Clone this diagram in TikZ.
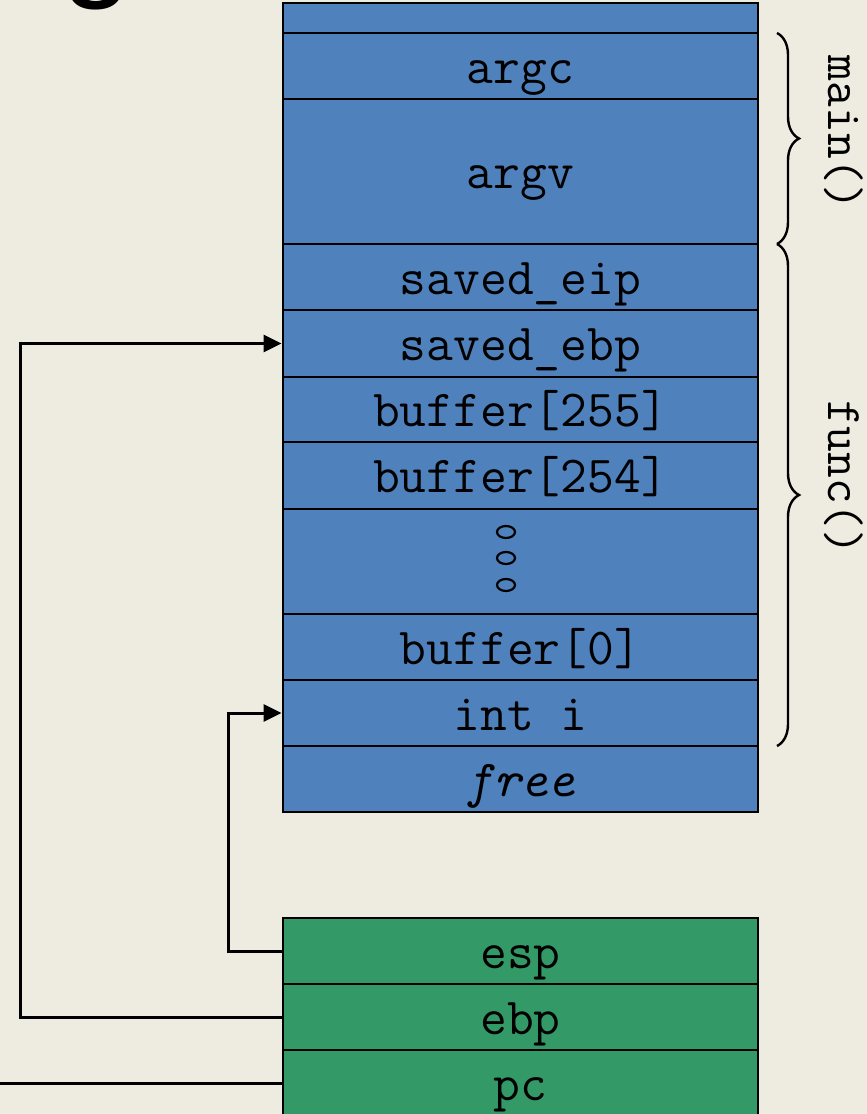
\documentclass[tikz,border=0pt]{standalone}
\usepackage{fontspec}
\newfontfamily\titlefont{Liberation Sans}
\usetikzlibrary{arrows.meta,decorations.pathreplacing}
\definecolor{bg}{HTML}{EEECE1}
\definecolor{stackblue}{HTML}{4F81BD}
\definecolor{reggreen}{HTML}{339966}
\tikzset{
  cell/.style={draw=black, line width=2.8pt, fill=stackblue, minimum width=475pt,
    inner sep=0pt, text height=34pt, text depth=0pt,
    font=\fontsize{52}{56}\selectfont\ttfamily},
  reg/.style={cell, fill=reggreen},
  conn/.style={draw=black, line width=3pt},
  arr/.style={conn, -{Triangle[length=18pt,width=17pt]}},
  bracestyle/.style={draw=black, line width=2.4pt,
    decorate, decoration={brace, amplitude=22pt, aspect=0.5}},
  sidelabel/.style={rotate=-90, inner sep=0pt, font=\fontsize{50}{54}\selectfont\ttfamily},
  dotmark/.style={draw=black, line width=2.2pt}
}
\begin{document}
\begin{tikzpicture}[x=1pt, y=-1pt]
\fill[bg] (0,0) rectangle (867,1114);
\useasboundingbox (0,0) rectangle (867,1114);

% clipped slide title fragment
\node[anchor=base west, inner sep=0pt, font=\fontsize{128}{130}\selectfont\titlefont] (title) at (-166,-17) {Usages};

% stack cells
\node[cell, minimum height=26pt] (top) at (520.5,20) {};
\node[cell, minimum height=66pt] (argc) at (520.5,66) {argc};
\node[cell, minimum height=145pt] (argv) at (520.5,171.5) {argv};
\node[cell, minimum height=66pt] (seip) at (520.5,277) {saved\_eip};
\node[cell, minimum height=67pt] (sebp) at (520.5,343.5) {saved\_ebp};
\node[cell, minimum height=65pt] (b255) at (520.5,409.5) {buffer[255]};
\node[cell, minimum height=67pt] (b254) at (520.5,475.5) {buffer[254]};
\node[cell, minimum height=105pt] (dots) at (520.5,561.5) {};
\node[cell, minimum height=66pt] (b0) at (520.5,647) {buffer[0]};
\node[cell, minimum height=66pt] (inti) at (520.5,713) {int i};
\node[cell, minimum height=66pt] (free) at (520.5,779) {\itshape free};

% ellipsis marks
\draw[dotmark] (506,532) ellipse [x radius=9pt, y radius=6pt];
\draw[dotmark] (506,558) ellipse [x radius=9pt, y radius=6pt];
\draw[dotmark] (506,585) ellipse [x radius=9pt, y radius=6pt];

% registers
\node[reg, minimum height=66pt] (esp) at (520.5,951) {esp};
\node[reg, minimum height=66pt] (ebp) at (520.5,1017) {ebp};
\node[reg, minimum height=66pt] (pc) at (520.5,1083) {pc};

% connectors
\draw[arr] (esp.west) -- ++(-53,0) |- (inti.west);
\draw[arr] (ebp.west) -- ++(-261,0) |- (sebp.west);
\coordinate (pcend) at (-5,1083);
\draw[conn] (pc.west) -- (pcend);

% braces
\coordinate (mainA) at (777,33);
\coordinate (mainB) at (777,244);
\coordinate (funcA) at (777,244);
\coordinate (funcB) at (777,746);
\draw[bracestyle] (mainA) -- (mainB);
\draw[bracestyle] (funcA) -- (funcB);
\node[sidelabel] (mainlbl) at (844,133) {main()};
\node[sidelabel] (funclbl) at (844,478) {func()};
\end{tikzpicture}
\end{document}
